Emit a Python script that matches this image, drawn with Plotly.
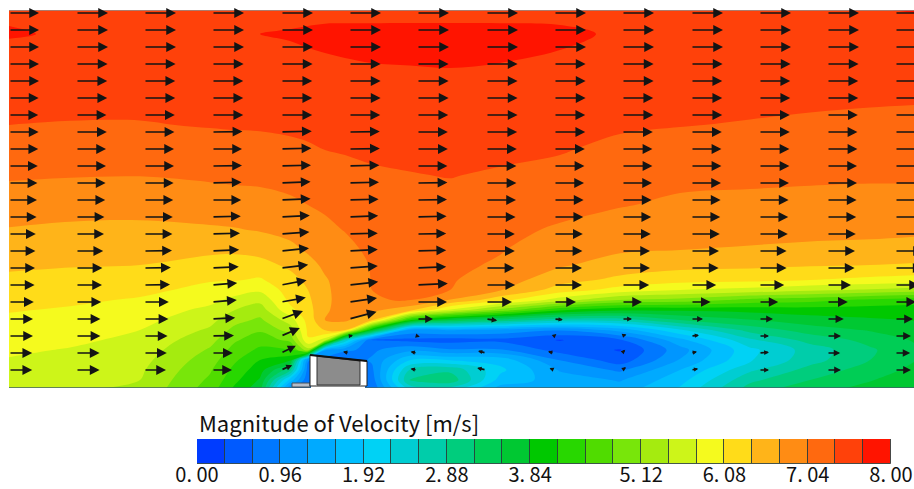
import math
import plotly.graph_objects as go

# ---- contour grid (horizontal / vertical stations, drawing units) ----
grid_x = [9, 70, 140, 210, 235, 260, 290, 308, 325, 345, 372, 410, 450, 500, 560, 620, 680, 750, 810, 870, 914]
grid_y = [10, 22, 34, 48, 68, 100, 125, 150, 175, 205, 230, 250, 265, 280, 290, 300, 310, 320, 330, 340, 350, 360, 370, 380, 388]

# ---- velocity magnitude [m/s], one list per station in grid_x ----
speed_x009 = [7.55,7.66,7.72,7.60,7.55,7.45,7.36,7.22,7.08,6.88,6.70,6.56,6.45,6.34,6.26,6.18,6.10,6.03,5.95,5.88,5.81,5.74,5.68,5.62,5.58]
speed_x070 = [7.58,7.62,7.63,7.60,7.55,7.46,7.34,7.20,7.06,6.84,6.66,6.53,6.42,6.30,6.22,6.13,6.05,5.97,5.90,5.82,5.74,5.67,5.60,5.53,5.48]
speed_x140 = [7.58,7.62,7.63,7.60,7.54,7.45,7.34,7.20,7.05,6.83,6.65,6.51,6.40,6.25,6.15,6.05,5.95,5.86,5.76,5.69,5.62,5.55,5.49,5.44,5.40]
speed_x210 = [7.56,7.60,7.62,7.60,7.54,7.45,7.38,7.22,7.09,6.88,6.68,6.46,6.29,6.10,6.00,5.85,5.68,5.54,5.39,5.23,5.08,4.95,4.84,4.74,4.66]
speed_x235 = [7.56,7.61,7.65,7.61,7.55,7.46,7.39,7.25,7.11,6.90,6.70,6.45,6.27,6.10,5.90,5.67,5.44,5.23,5.02,4.84,4.68,4.53,4.38,4.24,4.10]
speed_x260 = [7.56,7.62,7.68,7.62,7.56,7.47,7.39,7.27,7.12,6.92,6.74,6.50,6.30,6.04,5.82,5.53,5.28,5.06,4.84,4.63,4.41,4.16,3.97,3.80,3.65]
speed_x290 = [7.55,7.65,7.70,7.66,7.56,7.47,7.41,7.30,7.16,6.98,6.81,6.64,6.46,6.30,6.22,6.15,6.00,5.60,5.26,4.88,4.44,3.95,3.00,1.80,1.00]
speed_x308 = [7.55,7.66,7.72,7.68,7.58,7.48,7.42,7.33,7.18,7.04,6.88,6.76,6.62,6.47,6.40,6.33,6.26,6.20,6.14,6.05,5.30,1.00,0.80,0.70,0.70]
speed_x325 = [7.55,7.67,7.74,7.70,7.62,7.49,7.42,7.36,7.22,7.08,6.98,6.88,6.78,6.69,6.67,6.68,6.70,6.72,6.42,5.60,1.30,0.80,0.80,0.80,0.80]
speed_x345 = [7.56,7.67,7.76,7.72,7.64,7.50,7.43,7.38,7.28,7.14,7.05,6.96,6.90,6.86,6.84,6.80,6.78,6.78,6.40,2.50,1.00,0.75,0.70,0.70,0.70]
speed_x372 = [7.58,7.67,7.76,7.74,7.66,7.52,7.45,7.40,7.33,7.24,7.17,7.10,7.06,7.05,7.04,7.03,6.80,6.45,3.80,0.60,0.90,1.00,0.90,0.80,0.70]
speed_x410 = [7.60,7.67,7.78,7.75,7.67,7.54,7.47,7.42,7.35,7.29,7.24,7.19,7.15,7.11,7.08,7.05,6.50,4.20,1.20,0.55,1.20,1.90,2.60,2.90,2.40]
speed_x450 = [7.60,7.67,7.78,7.75,7.68,7.55,7.48,7.43,7.37,7.28,7.21,7.15,7.11,7.07,7.04,6.70,5.70,3.50,1.30,0.50,1.00,1.90,2.80,3.10,2.50]
speed_x500 = [7.60,7.67,7.77,7.74,7.66,7.55,7.48,7.42,7.33,7.20,7.12,7.06,7.00,6.88,6.74,6.20,5.00,3.10,1.20,0.55,1.00,1.80,2.00,1.80,1.50]
speed_x560 = [7.58,7.66,7.74,7.69,7.60,7.52,7.45,7.38,7.28,7.14,7.00,6.86,6.76,6.52,6.25,5.60,4.20,2.70,1.00,0.30,0.50,0.95,1.25,1.45,1.40]
speed_x620 = [7.58,7.63,7.64,7.60,7.55,7.47,7.40,7.29,7.18,7.06,6.88,6.76,6.58,6.32,5.95,5.10,3.90,2.70,1.40,0.60,0.30,0.45,0.90,1.25,1.40]
speed_x680 = [7.58,7.60,7.60,7.57,7.52,7.44,7.37,7.25,7.13,6.98,6.84,6.72,6.50,6.20,5.76,5.00,3.90,3.20,2.20,1.50,1.15,1.30,1.60,1.80,1.95]
speed_x750 = [7.58,7.58,7.57,7.55,7.50,7.43,7.34,7.22,7.11,6.96,6.82,6.69,6.47,6.16,5.65,4.70,3.95,3.50,3.00,2.50,2.15,2.20,2.50,2.80,3.00]
speed_x810 = [7.60,7.57,7.55,7.53,7.48,7.41,7.31,7.20,7.09,6.95,6.80,6.66,6.43,6.08,5.50,4.60,4.00,3.70,3.35,3.00,2.70,2.75,3.00,3.20,3.40]
speed_x870 = [7.66,7.60,7.55,7.52,7.47,7.39,7.29,7.19,7.08,6.94,6.79,6.64,6.40,6.00,5.40,4.40,4.00,3.80,3.55,3.30,3.15,3.20,3.35,3.50,3.60]
speed_x914 = [7.70,7.62,7.56,7.52,7.46,7.38,7.28,7.19,7.08,6.94,6.78,6.60,6.37,5.95,5.30,4.30,4.00,3.85,3.70,3.55,3.45,3.50,3.60,3.70,3.75]

speed_columns = [speed_x009, speed_x070, speed_x140, speed_x210, speed_x235, speed_x260, speed_x290, speed_x308,
                 speed_x325, speed_x345, speed_x372, speed_x410, speed_x450, speed_x500, speed_x560,
                 speed_x620, speed_x680, speed_x750, speed_x810, speed_x870, speed_x914]

# ---- velocity vectors [m/s]: rows top to bottom, columns left to right ----
arrow_x = [9, 76, 144, 212, 281, 349, 417, 486, 554, 622, 691, 759, 827, 895]
arrow_y = [13, 30, 47, 64, 81, 98, 115, 132, 149, 166, 183, 200, 217, 234, 251, 268, 285, 302, 319, 336, 353, 370]
arrow_u = [
    [7.5,8.0,8.0,8.0,8.0,8.0,8.0,8.0,8.0,8.0,8.0,8.0,8.0,8.0],
    [7.5,8.0,8.0,8.0,8.0,8.0,8.0,8.0,8.0,8.0,8.0,8.0,8.0,8.0],
    [7.5,8.0,8.0,8.0,8.0,8.0,8.0,8.0,8.0,8.0,8.0,8.0,8.0,8.0],
    [7.5,7.9,7.9,7.9,7.9,7.9,7.9,7.9,7.9,7.9,7.9,7.9,7.9,7.9],
    [7.5,7.8,7.8,7.8,7.8,7.9,7.9,7.9,7.9,7.9,7.8,7.8,7.8,7.8],
    [7.4,7.8,7.8,7.8,7.8,7.9,7.9,7.9,7.9,7.8,7.8,7.8,7.8,7.8],
    [7.3,7.6,7.7,7.8,7.8,7.8,7.8,7.9,7.8,7.8,7.8,7.7,7.7,7.7],
    [7.4,7.7,7.6,7.6,7.7,7.7,7.7,7.8,7.8,7.7,7.7,7.7,7.6,7.6],
    [7.3,7.5,7.5,7.5,7.6,7.7,7.7,7.7,7.7,7.6,7.6,7.6,7.6,7.6],
    [7.2,7.5,7.5,7.5,7.5,7.6,7.6,7.6,7.6,7.6,7.6,7.6,7.5,7.5],
    [7.1,7.4,7.4,7.4,7.4,7.5,7.6,7.6,7.5,7.5,7.5,7.5,7.5,7.5],
    [7.0,7.3,7.3,7.3,7.4,7.4,7.5,7.5,7.4,7.4,7.4,7.4,7.4,7.4],
    [6.9,7.1,7.2,7.2,7.2,7.3,7.4,7.4,7.3,7.3,7.3,7.3,7.3,7.3],
    [6.7,7.0,7.1,7.0,7.1,7.2,7.3,7.2,7.2,7.2,7.2,7.2,7.2,7.2],
    [6.6,6.8,7.0,6.8,7.0,7.2,7.3,7.2,7.1,7.0,7.0,6.9,7.0,7.0],
    [6.5,6.6,6.7,6.7,6.8,7.2,7.3,7.1,7.0,7.0,6.9,6.9,6.9,6.9],
    [6.4,6.5,6.5,6.3,6.4,7.3,7.7,7.3,7.0,6.8,6.3,6.3,6.0,6.0],
    [6.2,6.3,6.2,6.2,6.2,7.0,7.5,6.5,5.5,5.0,4.9,4.8,5.2,5.3],
    [6.0,6.1,6.1,5.8,5.5,6.9,4.0,2.8,2.2,2.5,3.0,3.5,4.2,4.5],
    [6.0,6.1,5.9,5.5,4.7,1.0,0.7,0.5,0.6,1.1,2.0,2.5,3.5,4.0],
    [5.8,5.9,5.7,5.2,3.7,-1.5,-1.6,-2.0,-1.5,0.8,1.5,2.5,3.3,3.8],
    [5.8,5.9,5.5,5.0,2.8,0.0,-1.6,-2.2,-1.1,1.0,1.8,2.5,3.5,4.0],
]
arrow_v = [
    [0,0,0,0,0,0,0,0,0,0,0,0,0,0],
    [0,0,0,0,0,0,0,0,0,0,0,0,0,0],
    [0,0,0,0,0,0,0,0,0,0,0,0,0,0],
    [0,0,0,0,0,0,0,0,0,0,0,0,0,0],
    [0,0,0,0,0,0,0,0,0,0,0,0,0,0],
    [0,0,0,0,0,0,0,0,0,0,0,0,0,0],
    [0,0,0,0,0,0,0,0,0,0,0,0,0,0],
    [0,0,0,0.1,0.2,0.1,0,0,0,0,0,0,0,0],
    [0,0,0,0,0.2,0.1,0,0,0,0,0,0,0,0],
    [0,0,0,0.1,0.2,0.2,0,0,0,0,0,0,0,0],
    [0,0,0,0.2,0.3,0.2,0.1,0,0,0,0,0,0,0],
    [0,0,0,0,0.3,0.2,0.1,0,0,0,0,0,0,0],
    [0,0,0,0.2,0.4,0.3,0.2,0,0,0,0,0,0,0],
    [0,0,0,0.2,0.5,0.2,0.1,0,0,0,0,0,0,0],
    [0,0,0.1,0.3,0.7,0.4,0.2,0,0,0,0,0,0,0],
    [0,0,0.1,0.3,0.8,0.5,0.3,0,0,0,0,0,0,0],
    [0,0,0.1,0.5,1.2,0.8,0.4,0,0,0,0,0,0,0],
    [0,0,0,0.5,1.1,1.0,0,0,0,0,0,0,0,0],
    [0,0,0,0.3,2.0,1.8,0,-0.4,-0.2,0,0,0,0,0],
    [0,0,0,0.1,2.0,0.1,-0.2,-0.1,0.5,0.4,0.2,0,0,0],
    [0,0,0,0,1.8,0.3,0.3,0.5,0.4,0.8,0.3,0.2,0,0],
    [0,0,0,0,1.2,0,0.3,0.5,0.5,0.7,0.3,0,0,0],
]
ARROW_SCALE = 4.0

# ---- colour key ----
band_colors = [
    "rgb(0,60,255)", "rgb(0,90,255)", "rgb(0,120,255)", "rgb(0,150,255)", "rgb(0,170,255)",
    "rgb(0,190,255)", "rgb(0,210,245)", "rgb(0,205,210)", "rgb(0,205,170)", "rgb(0,205,125)",
    "rgb(0,205,85)", "rgb(0,200,50)", "rgb(0,200,0)", "rgb(40,215,0)", "rgb(80,220,0)",
    "rgb(120,230,10)", "rgb(165,235,15)", "rgb(205,245,25)", "rgb(245,250,30)", "rgb(255,220,25)",
    "rgb(255,180,25)", "rgb(255,140,20)", "rgb(255,105,15)", "rgb(255,65,10)", "rgb(255,20,0)",
]
band_size = 0.32
tick_vals = [0.00, 0.96, 1.92, 2.88, 3.84, 5.12, 6.08, 7.04, 8.00]
tick_text = ["0. 00", "0. 96", "1. 92", "2. 88", "3. 84", "5. 12", "6. 08", "7. 04", "8. 00"]
key_title = "Magnitude of Velocity [m/s]"

W, H = 914, 489
n = len(band_colors)
colorscale = []
for i, c in enumerate(band_colors):
    colorscale += [[i / n, c], [(i + 1) / n, c]]

z = [list(row) for row in zip(*speed_columns)]

fig = go.Figure()
fig.add_trace(go.Contour(
    x=grid_x, y=grid_y, z=z, zmin=0, zmax=8, colorscale=colorscale, showscale=False,
    autocontour=False, contours=dict(start=0, end=8, size=band_size, coloring="fill", showlines=False),
    line=dict(width=0, smoothing=1.0), hoverinfo="skip",
))
fig.add_trace(go.Bar(
    x=[(i + 0.5) * band_size for i in range(n)], y=[1] * n, width=band_size,
    marker=dict(color=band_colors, line=dict(color="rgba(40,60,60,0.85)", width=1)),
    xaxis="x2", yaxis="y2", hoverinfo="skip", showlegend=False,
))

annotations = []
for r, y0 in enumerate(arrow_y):
    for c, x0 in enumerate(arrow_x):
        u, v = arrow_u[r][c], arrow_v[r][c]
        if u == 0 and v == 0:
            continue
        size = 1.15 * min(1.0, math.hypot(u, v) / 5.0)
        annotations.append(dict(
            x=x0 + u * ARROW_SCALE, y=y0 - v * ARROW_SCALE, ax=x0, ay=y0,
            xref="x", yref="y", axref="x", ayref="y", text="", showarrow=True,
            arrowhead=2, arrowsize=max(0.5, size), arrowwidth=1.7, arrowcolor="#141414", standoff=0,
        ))
annotations.append(dict(
    x=197 / W, y=1 - 422 / H, xref="paper", yref="paper", xanchor="left", yanchor="middle",
    text=key_title, showarrow=False, font=dict(family="Noto Sans CJK JP", size=22, color="#111"),
))

shapes = [
    dict(type="line", x0=9, x1=914, y0=10, y1=10, line=dict(color="#8f8f8f", width=1.5)),
    dict(type="line", x0=9, x1=914, y0=388, y1=388, line=dict(color="#3f5f68", width=1.5)),
    dict(type="rect", x0=311, x1=365, y0=386, y1=392, fillcolor="white", line=dict(width=0)),
    dict(type="rect", x0=292, x1=310, y0=383, y1=387, fillcolor="#b4bcc8", line=dict(color="#44505a", width=1)),
    dict(type="path", path="M 310 355 L 367 361 L 367 386 L 310 386 Z", fillcolor="white",
         line=dict(color="#222", width=1)),
    dict(type="path", path="M 317 356 L 360 361 L 360 385 L 317 385 Z", fillcolor="#8c8c8c",
         line=dict(color="#333", width=1)),
    dict(type="line", x0=310, x1=367, y0=355, y1=361, line=dict(color="#111", width=2)),
]

fig.update_layout(
    width=W, height=H, margin=dict(l=0, r=0, t=0, b=0, autoexpand=False), paper_bgcolor="white", plot_bgcolor="white",
    showlegend=False, annotations=annotations, shapes=shapes, bargap=0,
    xaxis=dict(domain=[9 / W, 1], range=[9, 914], visible=False),
    yaxis=dict(domain=[1 - 388 / H, 1 - 10 / H], range=[388, 10], visible=False),
    xaxis2=dict(domain=[197 / W, 891 / W], range=[0, 8], anchor="y2", showgrid=False, zeroline=False,
                tickmode="array", tickvals=tick_vals, ticktext=tick_text, ticks="", showline=False,
                automargin=False, ticklabelstandoff=-3,
                tickfont=dict(family="Noto Sans CJK JP", size=20, color="#111")),
    yaxis2=dict(domain=[1 - 464 / H, 1 - 439 / H], range=[0, 1], anchor="x2", visible=False),
)
fig.write_html("out.html", config=dict(displayModeBar=False), post_script="document.body.style.margin='0';")
